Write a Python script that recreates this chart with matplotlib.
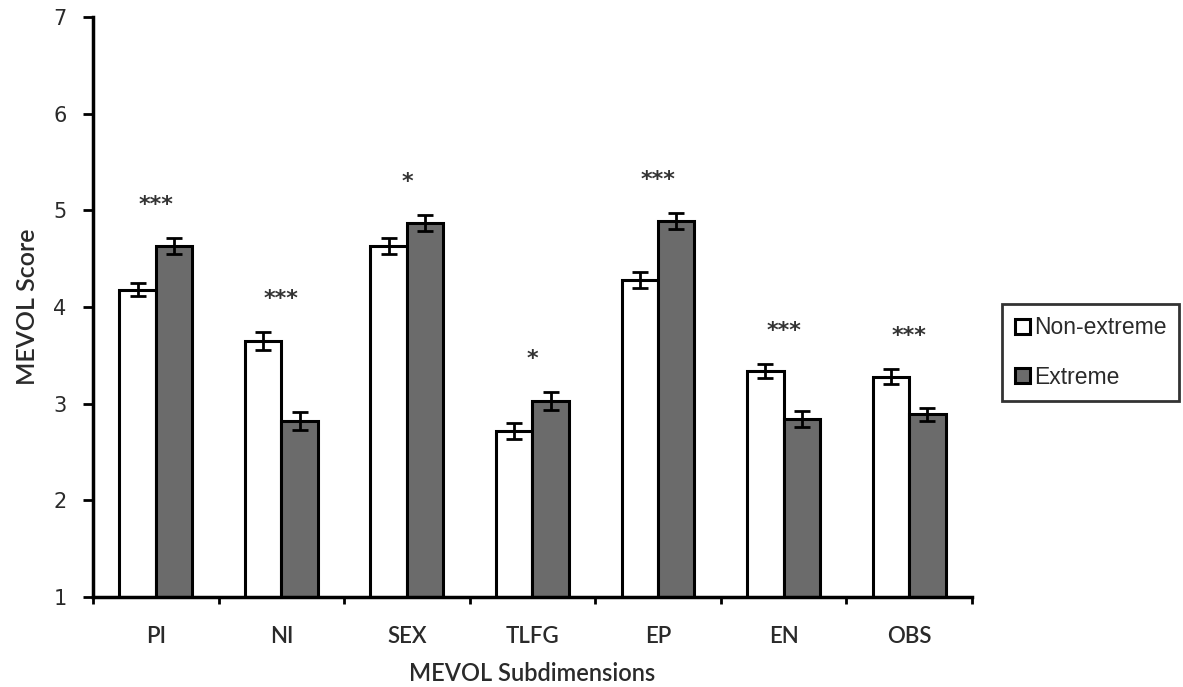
import numpy as np
import matplotlib
matplotlib.use('Agg')
import matplotlib.pyplot as plt

# data
categories = ['PI', 'NI', 'SEX', 'TLFG', 'EP', 'EN', 'OBS']
non_extreme = [4.18, 3.65, 4.63, 2.72, 4.28, 3.34, 3.28]
non_extreme_err = [0.07, 0.09, 0.08, 0.08, 0.08, 0.07, 0.08]
extreme = [4.63, 2.82, 4.87, 3.03, 4.89, 2.84, 2.89]
extreme_err = [0.08, 0.09, 0.08, 0.09, 0.08, 0.08, 0.07]
stars = ['***', '***', '*', '*', '***', '***', '***']

plt.rcParams['font.family'] = ['Lato', 'DejaVu Sans']
txt_col = '#2a2a2a'

fig = plt.figure(figsize=(11.83, 6.87), dpi=100)
ax = fig.add_axes([0.0786, 0.131, 0.7430, 0.844])

x = np.arange(len(categories))
w = 0.29
ax.bar(x - w / 2, non_extreme, w, color='white', edgecolor='black',
       linewidth=2.2, label='Non-extreme', zorder=2)
ax.bar(x + w / 2, extreme, w, color='#6b6b6b', edgecolor='black',
       linewidth=2.2, label='Extreme', zorder=2)
ax.errorbar(x - w / 2, non_extreme, yerr=non_extreme_err, fmt='none',
            ecolor='black', elinewidth=2, capsize=6, capthick=2, zorder=3)
ax.errorbar(x + w / 2, extreme, yerr=extreme_err, fmt='none',
            ecolor='black', elinewidth=2, capsize=6, capthick=2, zorder=3)

for i, s in enumerate(stars):
    top = max(non_extreme[i] + non_extreme_err[i], extreme[i] + extreme_err[i])
    ax.text(x[i], top + 0.24, s, ha='center', va='bottom', fontsize=16,
            fontweight='bold', color='#333333', family='DejaVu Sans')

ax.set_xlim(-0.5, len(categories) - 0.5)
ax.set_ylim(1, 7)
ax.set_yticks(range(1, 8))
ax.set_xticks(x)
ax.set_xticklabels(categories)
ax.set_xticks(np.arange(-0.5, len(categories)), minor=True)
ax.tick_params(axis='x', which='major', length=0, pad=21, labelsize=16,
               labelcolor=txt_col)
ax.tick_params(axis='x', which='minor', length=5, width=2, direction='out')
ax.tick_params(axis='y', length=7, width=2, direction='out', labelsize=15,
               pad=12, labelcolor=txt_col)
for lab in ax.get_yticklabels():
    lab.set_family('DejaVu Sans')
for lab in ax.get_xticklabels():
    lab.set_fontweight('semibold')

for side in ['top', 'right']:
    ax.spines[side].set_visible(False)
for side in ['left', 'bottom']:
    ax.spines[side].set_linewidth(2.5)

ax.set_xlabel('MEVOL Subdimensions', fontsize=17, labelpad=11,
              fontweight='semibold', color=txt_col)
ax.set_ylabel('MEVOL Score', fontsize=18, labelpad=10,
              fontweight='semibold', color=txt_col)

leg = fig.legend(loc='upper left', bbox_to_anchor=(0.847, 0.558),
                 frameon=True, fancybox=False, edgecolor='black',
                 prop={'family': 'Liberation Sans', 'size': 16.5},
                 handlelength=0.65, handleheight=0.65, handletextpad=0.2,
                 labelspacing=1.15, borderpad=0.55, borderaxespad=0)
leg.get_frame().set_linewidth(2)
for t in leg.get_texts():
    t.set_color(txt_col)

fig.savefig('out.png', dpi=100)
